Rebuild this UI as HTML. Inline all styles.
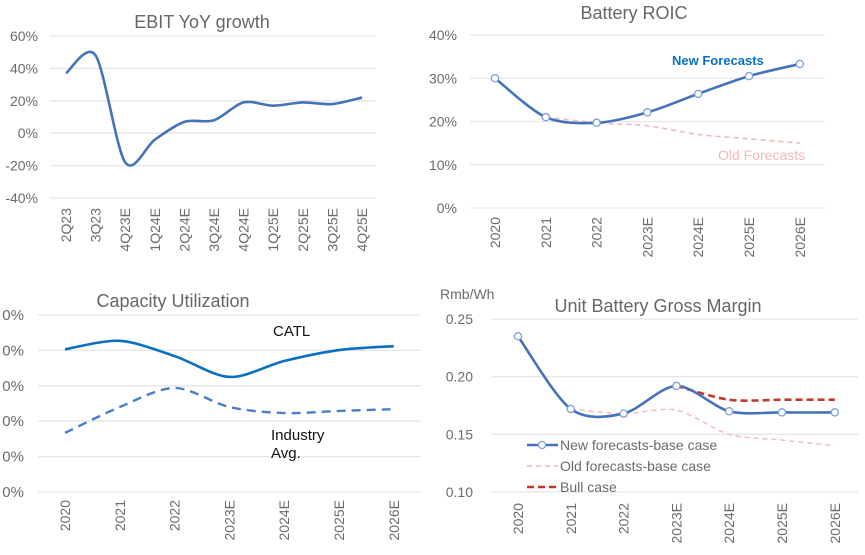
<!DOCTYPE html>
<html><head><meta charset="utf-8">
<style>
html,body{margin:0;padding:0;background:#fff;}
svg{display:block;font-family:"Liberation Sans",sans-serif;}
</style></head>
<body>
<svg id="c" width="865" height="555" viewBox="0 0 865 555">
<defs><clipPath id="capclip"><rect x="2" y="280" width="430" height="275"/></clipPath></defs>
</svg>
<script>
// ---------- data ----------
const ebitCats = ["2Q23","3Q23","4Q23E","1Q24E","2Q24E","3Q24E","4Q24E","1Q25E","2Q25E","3Q25E","4Q25E"];
const ebitVals = [37,48,-18,-4,7,8,19,17,19,18,22];
const ebitTicks = [60,40,20,0,-20,-40];

const yearCats = ["2020","2021","2022","2023E","2024E","2025E","2026E"];
const roicNew = [30,21,19.7,22.1,26.4,30.5,33.3];
const roicOld = [null,21,19.7,19,17,16,15];
const roicTicks = [40,30,20,10,0];

const capCatl = [90.3,92.7,88.4,82.5,87,90.1,91.2];
const capInd = [66.7,74,79.4,74,72.3,72.9,73.4];
const capTicks = [100,90,80,70,60,50];

const gmNew = [0.235,0.172,0.168,0.192,0.170,0.169,0.169];
const gmOld = [null,0.172,0.168,0.171,0.150,0.145,0.140];
const gmBull = [null,null,null,0.192,0.180,0.180,0.180];
const gmTicks = [0.25,0.20,0.15,0.10];

// ---------- helpers ----------
const NS="http://www.w3.org/2000/svg";
const svg=document.getElementById('c');
function mk(tag,attrs,parent,text){const e=document.createElementNS(NS,tag);for(const k in attrs)e.setAttribute(k,attrs[k]);if(text!==undefined)e.textContent=text;(parent||svg).appendChild(e);return e;}
function smooth(pts){
  if(pts.length<2)return "";
  let d="M"+pts[0][0]+","+pts[0][1];
  for(let i=0;i<pts.length-1;i++){
    const p0=pts[i-1]||pts[i],p1=pts[i],p2=pts[i+1],p3=pts[i+2]||p2;
    const t=0.45/3;
    const c1=[p1[0]+(p2[0]-p0[0])*t,p1[1]+(p2[1]-p0[1])*t];
    const c2=[p2[0]-(p3[0]-p1[0])*t,p2[1]-(p3[1]-p1[1])*t];
    d+=" C"+c1[0]+","+c1[1]+" "+c2[0]+","+c2[1]+" "+p2[0]+","+p2[1];
  }
  return d;
}
function chart(o){
  const g=mk('g',{});
  
  
  const y=v=>o.yTop+(o.vMax-v)/(o.vMax-o.vMin)*(o.yBot-o.yTop);
  const x=i=>o.x0+i*o.dx;
  const yg=mk('g',o.clip?{"clip-path":"url(#"+o.clip+")"}:{},g);
  
  
  o.ticks.forEach(t=>{
    const gl=mk('line',{x1:o.gx0,x2:o.gx1,y1:y(t),y2:y(t),stroke:"#e6e6e6","stroke-width":1.3},g);
    
    
    const tl=mk('text',{x:o.ylx,y:y(t)+5,"text-anchor":"end","font-size":o.yfs||14,fill:"#6b6b6b"},yg,o.fmt(t));
    
    
  });
  o.cats.forEach((c,i)=>{
    const tx=mk('text',{x:0,y:0,"text-anchor":"end","font-size":14,fill:"#6b6b6b",transform:"translate("+(x(i)+5)+","+o.xlTop+") rotate(-90)"},g,c);
    
    
  });
  const tt=mk('text',{x:o.tx,y:o.ty,"text-anchor":"middle","font-size":18,fill:"#666"},g,o.title);
  
  
  o.series.forEach(s=>{
    const pts=[];s.vals.forEach((v,i)=>{if(v!==null)pts.push([x(i),y(v)]);});
    const p=mk('path',{d:smooth(pts),fill:"none",stroke:s.color,"stroke-width":s.w,"stroke-dasharray":s.dash||"none","stroke-linecap":"butt"},g);
    
    
    if(s.markers)pts.forEach(pt=>{
      const m=mk('circle',{cx:pt[0],cy:pt[1],r:3.6,fill:"#fff",stroke:"#7f9fd6","stroke-width":1.3},g);
      
      
    });
  });
  return g;
}
const pct=v=>v+"%";

chart({name:"ebit-yoy-chart",title:"EBIT YoY growth",tx:202,ty:28,cats:ebitCats,x0:66,dx:29.6,
  yTop:36,yBot:198,vMax:60,vMin:-40,ticks:ebitTicks,fmt:pct,gx0:50,gx1:376,ylx:38,xlTop:208,
  series:[{name:"ebit-line",vals:ebitVals,color:"#4473b9",w:2.6}]});

chart({name:"battery-roic-chart",title:"Battery ROIC",tx:634,ty:19,cats:yearCats,x0:495,dx:50.8,
  yTop:35,yBot:208,vMax:40,vMin:0,ticks:roicTicks,fmt:pct,gx0:470,gx1:825,ylx:457,xlTop:217,
  series:[{name:"roic-old-forecasts",vals:roicOld,color:"#f2b8b8",w:1.6,dash:"5,4"},
          {name:"roic-new-forecasts",vals:roicNew,color:"#4473b9",w:2.6,markers:true}]});

chart({name:"capacity-utilization-chart",title:"Capacity Utilization",tx:173,ty:307,cats:yearCats,x0:65,dx:54.8,
  yTop:315,yBot:492,vMax:100,vMin:50,ticks:capTicks,fmt:pct,gx0:38,gx1:421,ylx:24,yfs:15,clip:"capclip",xlTop:500,
  series:[{name:"catl-line",vals:capCatl,color:"#0a6fc2",w:2.6},
          {name:"industry-avg-line",vals:capInd,color:"#4a7fc4",w:2.4,dash:"9,6"}]});

chart({name:"unit-gross-margin-chart",title:"Unit Battery Gross Margin",tx:658,ty:312,cats:yearCats,x0:518,dx:52.8,
  yTop:319,yBot:492,vMax:0.25,vMin:0.10,ticks:gmTicks,fmt:v=>v.toFixed(2),gx0:491,gx1:858,ylx:473,xlTop:503,
  series:[{name:"gm-old-forecasts",vals:gmOld,color:"#f2b8b8",w:1.4,dash:"5,4"},
          {name:"gm-bull-case",vals:gmBull,color:"#c0392b",w:2.6,dash:"7,4"},
          {name:"gm-new-forecasts",vals:gmNew,color:"#4473b9",w:2.6,markers:true}]});

// annotations
function label(txt,x,y,attrs,name){const t=mk('text',Object.assign({x:x,y:y},attrs),svg,txt);return t;}
label("New Forecasts",672,65,{"font-size":13,"font-weight":"bold",fill:"#0a6fc2"},"new-forecasts-label");
label("Old Forecasts",718,160,{"font-size":14,fill:"#f0b9b9"},"old-forecasts-label");
label("CATL",273,336,{"font-size":15,fill:"#111"},"catl-label");
label("Industry",271,440,{"font-size":15,fill:"#111"},"industry-label");
label("Avg.",271,458,{"font-size":15,fill:"#111"},"avg-label");
label("Rmb/Wh",440,299,{"font-size":14,fill:"#6b6b6b"},"y-axis-unit");

// legend
const lg=mk('g',{});


const le=[{t:"New forecasts-base case",c:"#4473b9",w:2.6,d:"none",m:true},{t:"Old forecasts-base case",c:"#f2b8b8",w:1.4,d:"5,4"},{t:"Bull case",c:"#c0392b",w:2.6,d:"7,4"}];
le.forEach((e,i)=>{
  const yy=445+i*21;
  const l=mk('line',{x1:527,x2:558,y1:yy,y2:yy,stroke:e.c,"stroke-width":e.w,"stroke-dasharray":e.d},lg);
  
  
  if(e.m){const m=mk('circle',{cx:542,cy:yy,r:3.6,fill:"#fff",stroke:"#7f9fd6","stroke-width":1.3},lg);}
  const t=mk('text',{x:560,y:yy+5,"font-size":14,fill:"#6b6b6b"},lg,e.t);
  
  
});
</script>
</body></html>
